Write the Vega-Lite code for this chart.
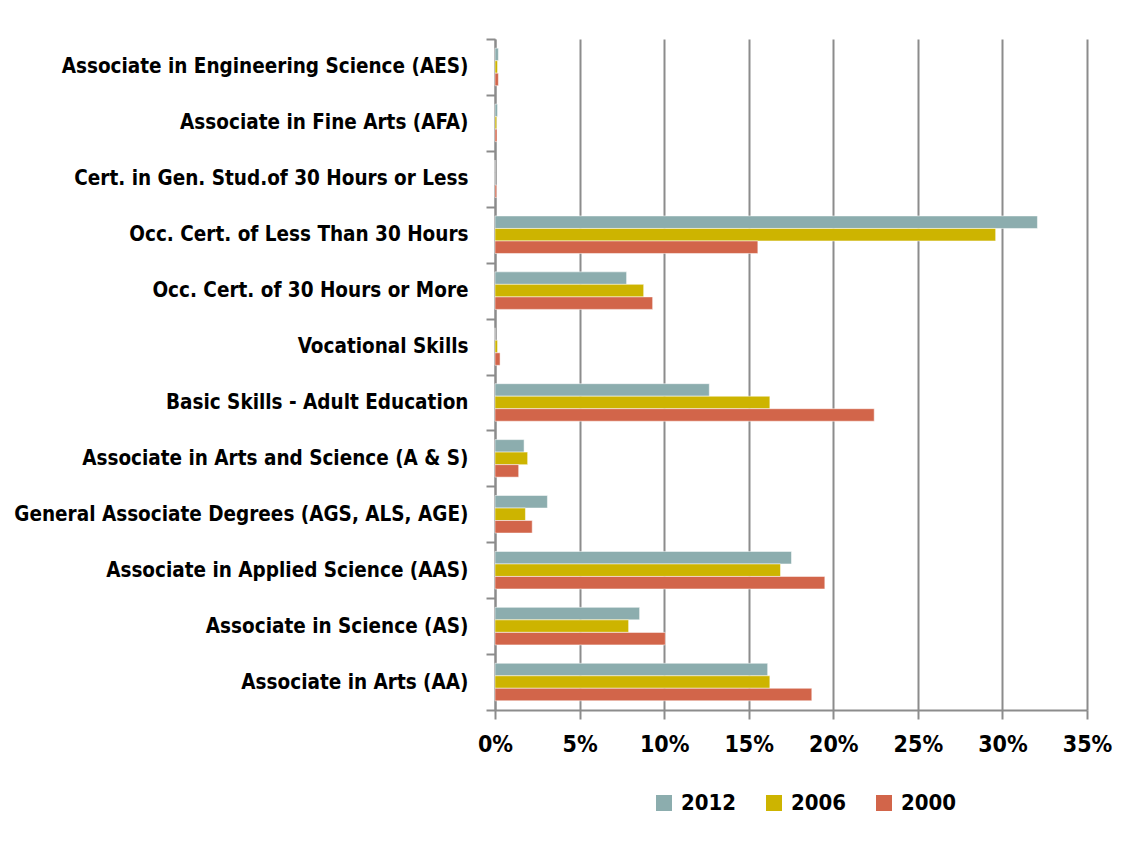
{
  "$schema": "https://vega.github.io/schema/vega-lite/v6.json",
  "width": 592,
  "height": 671,
  "autosize": "none",
  "padding": {"left": 495, "top": 39, "right": 41, "bottom": 132},
  "background": "white",
  "config": {
    "view": {"stroke": null},
    "font": "DejaVu Sans Condensed"
  },
  "data": {
    "values": [
      {"degree": "Associate in Engineering Science (AES)", "year": "2012", "pct": 0.002},
      {"degree": "Associate in Engineering Science (AES)", "year": "2006", "pct": 0.0015},
      {"degree": "Associate in Engineering Science (AES)", "year": "2000", "pct": 0.002},
      {"degree": "Associate in Fine Arts (AFA)", "year": "2012", "pct": 0.0015},
      {"degree": "Associate in Fine Arts (AFA)", "year": "2006", "pct": 0.001},
      {"degree": "Associate in Fine Arts (AFA)", "year": "2000", "pct": 0.0012},
      {"degree": "Cert. in Gen. Stud.of 30 Hours or Less", "year": "2012", "pct": 0},
      {"degree": "Cert. in Gen. Stud.of 30 Hours or Less", "year": "2006", "pct": 0},
      {"degree": "Cert. in Gen. Stud.of 30 Hours or Less", "year": "2000", "pct": 0.001},
      {"degree": "Occ. Cert. of Less Than 30 Hours", "year": "2012", "pct": 0.3207},
      {"degree": "Occ. Cert. of Less Than 30 Hours", "year": "2006", "pct": 0.296},
      {"degree": "Occ. Cert. of Less Than 30 Hours", "year": "2000", "pct": 0.1554},
      {"degree": "Occ. Cert. of 30 Hours or More", "year": "2012", "pct": 0.0778},
      {"degree": "Occ. Cert. of 30 Hours or More", "year": "2006", "pct": 0.0879},
      {"degree": "Occ. Cert. of 30 Hours or More", "year": "2000", "pct": 0.0932},
      {"degree": "Vocational Skills", "year": "2012", "pct": 0},
      {"degree": "Vocational Skills", "year": "2006", "pct": 0.0015},
      {"degree": "Vocational Skills", "year": "2000", "pct": 0.003},
      {"degree": "Basic Skills - Adult Education", "year": "2012", "pct": 0.1267},
      {"degree": "Basic Skills - Adult Education", "year": "2006", "pct": 0.1625},
      {"degree": "Basic Skills - Adult Education", "year": "2000", "pct": 0.2242},
      {"degree": "Associate in Arts and Science (A & S)", "year": "2012", "pct": 0.0172},
      {"degree": "Associate in Arts and Science (A & S)", "year": "2006", "pct": 0.0193},
      {"degree": "Associate in Arts and Science (A & S)", "year": "2000", "pct": 0.014},
      {"degree": "General Associate Degrees (AGS, ALS, AGE)", "year": "2012", "pct": 0.031},
      {"degree": "General Associate Degrees (AGS, ALS, AGE)", "year": "2006", "pct": 0.018},
      {"degree": "General Associate Degrees (AGS, ALS, AGE)", "year": "2000", "pct": 0.022},
      {"degree": "Associate in Applied Science (AAS)", "year": "2012", "pct": 0.1753},
      {"degree": "Associate in Applied Science (AAS)", "year": "2006", "pct": 0.1688},
      {"degree": "Associate in Applied Science (AAS)", "year": "2000", "pct": 0.195},
      {"degree": "Associate in Science (AS)", "year": "2012", "pct": 0.0855},
      {"degree": "Associate in Science (AS)", "year": "2006", "pct": 0.079},
      {"degree": "Associate in Science (AS)", "year": "2000", "pct": 0.1007},
      {"degree": "Associate in Arts (AA)", "year": "2012", "pct": 0.1612},
      {"degree": "Associate in Arts (AA)", "year": "2006", "pct": 0.1625},
      {"degree": "Associate in Arts (AA)", "year": "2000", "pct": 0.1873}
    ]
  },
  "mark": {"type": "bar", "stroke": "white", "strokeOpacity": 0.5, "strokeWidth": 1},
  "encoding": {
    "y": {
      "field": "degree",
      "type": "nominal",
      "sort": null,
      "scale": {"paddingInner": 0, "paddingOuter": 0},
      "axis": {
        "title": null,
        "tickBand": "extent",
        "domainColor": "#8c8c8c",
        "domainWidth": 2,
        "tickColor": "#8c8c8c",
        "tickWidth": 2,
        "tickSize": 9,
        "labelPadding": 18,
        "labelFont": "DejaVu Sans Condensed",
        "labelFontWeight": "bold",
        "labelFontSize": 20.5,
        "labelColor": "black",
        "labelLimit": 600,
        "grid": false
      }
    },
    "yOffset": {
      "field": "year",
      "type": "nominal",
      "sort": ["2012", "2006", "2000"],
      "scale": {"paddingInner": 0, "paddingOuter": 0.735}
    },
    "x": {
      "field": "pct",
      "type": "quantitative",
      "scale": {"domain": [0, 0.35], "nice": false},
      "axis": {
        "title": null,
        "values": [0, 0.05, 0.1, 0.15, 0.2, 0.25, 0.3, 0.35],
        "format": ".0%",
        "grid": true,
        "gridColor": "#8c8c8c",
        "gridWidth": 2,
        "domainColor": "#8c8c8c",
        "domainWidth": 2,
        "tickColor": "#8c8c8c",
        "tickWidth": 2,
        "tickSize": 9,
        "labelPadding": 14,
        "labelFlush": false,
        "labelOverlap": false,
        "labelFont": "DejaVu Sans Condensed",
        "labelFontWeight": "bold",
        "labelFontSize": 23,
        "labelColor": "black"
      }
    },
    "color": {
      "field": "year",
      "type": "nominal",
      "scale": {"domain": ["2012", "2006", "2000"], "range": ["#8CADAE", "#CDB400", "#D2654A"]},
      "legend": {
        "title": null,
        "orient": "none",
        "direction": "horizontal",
        "legendX": 158,
        "legendY": 753,
        "symbolType": "square",
        "symbolSize": 256,
        "symbolStrokeWidth": 0,
        "labelFont": "DejaVu Sans Condensed",
        "labelFontWeight": "bold",
        "labelFontSize": 22,
        "labelColor": "black",
        "labelOffset": 6,
        "columnPadding": 26
      }
    }
  }
}
